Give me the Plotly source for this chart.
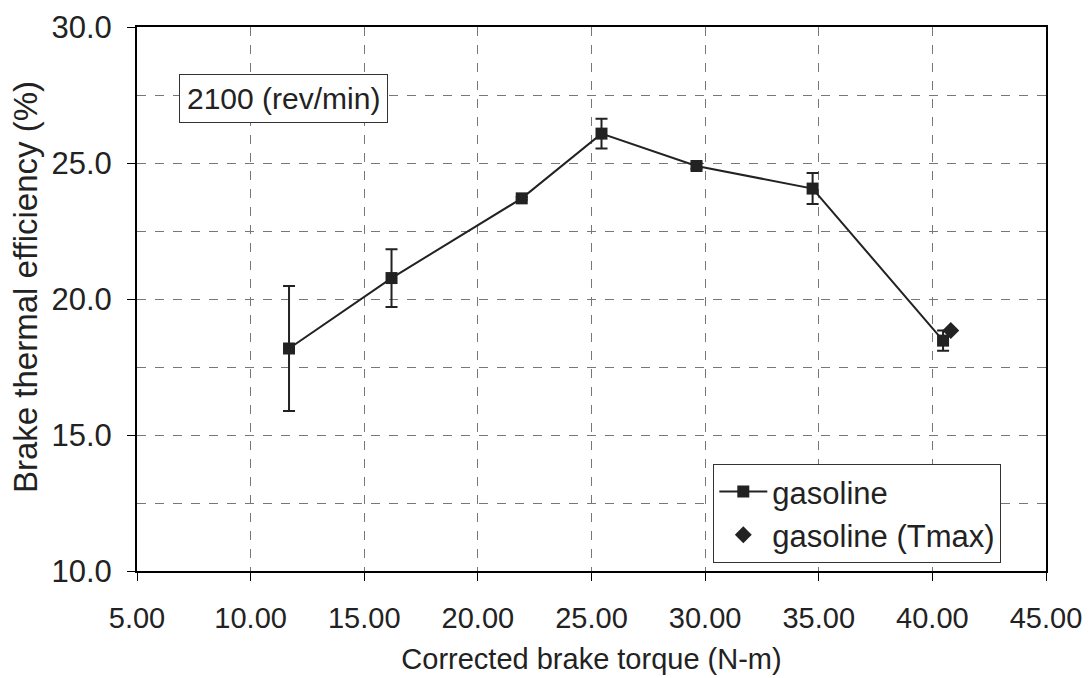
import plotly.graph_objects as go

# Data
torque = [11.69, 16.20, 21.93, 25.44, 29.62, 34.73, 40.47]
efficiency = [18.18, 20.77, 23.70, 26.08, 24.89, 24.06, 18.47]
err = [2.30, 1.06, 0.05, 0.55, 0.10, 0.57, 0.37]

tmax_torque = [40.81]
tmax_eff = [18.84]

x_ticks = [5, 10, 15, 20, 25, 30, 35, 40, 45]
y_ticks = [10, 15, 20, 25, 30]

FONT = "Liberation Sans, Arial, sans-serif"
INK = "#222222"

fig = go.Figure()
fig.add_trace(go.Scatter(
    x=torque, y=efficiency, name="gasoline", mode="lines+markers",
    line=dict(color=INK, width=2),
    marker=dict(symbol="square", size=12, color=INK),
    error_y=dict(type="data", array=err, visible=True, color=INK, thickness=2, width=6),
))
fig.add_trace(go.Scatter(
    x=tmax_torque, y=tmax_eff, name="gasoline (Tmax)", mode="markers",
    marker=dict(symbol="diamond", size=13, color=INK),
))

# page body has an 8px default margin, so the figure is 8px smaller
fig.update_layout(
    width=1082, height=670,
    margin=dict(l=129, r=44, t=19, b=107),
    paper_bgcolor="white", plot_bgcolor="white",
    font=dict(family=FONT, size=28, color=INK),
    showlegend=True,
    legend=dict(
        x=0.634, y=0.197, xanchor="left", yanchor="top",
        bgcolor="white", bordercolor="#333", borderwidth=1,
        font=dict(size=31), tracegroupgap=0, itemwidth=48,
    ),
    annotations=[
        dict(
            text="2100 (rev/min)", x=0.161, y=0.8686, xref="paper", yref="paper",
            xanchor="center", yanchor="middle",
            showarrow=False, font=dict(size=30, color=INK),
            bordercolor="#333", borderwidth=1, borderpad=7, bgcolor="white",
        ),
        dict(
            text="Brake thermal efficiency (%)", x=-0.1232, y=0.522,
            xref="paper", yref="paper", xanchor="center", yanchor="middle",
            textangle=-90, showarrow=False, font=dict(size=33, color=INK),
        ),
    ],
)

grid = dict(showgrid=True, gridcolor="#777777", gridwidth=1, griddash="dash")
fig.update_xaxes(
    range=[5, 45], tickvals=x_ticks, ticktext=[f"{v:.2f}" for v in x_ticks],
    tickfont=dict(size=29), ticklabelstandoff=12,
    showline=True, linecolor="black", linewidth=2, mirror=True,
    ticks="outside", ticklen=8, tickcolor="black",
    title=dict(text="Corrected brake torque (N-m)", font=dict(size=29), standoff=16),
    automargin=False, zeroline=False, **grid,
)
fig.update_yaxes(
    range=[10, 30], tickvals=y_ticks, ticktext=[f"{v:.1f}" for v in y_ticks],
    tickfont=dict(size=31), ticklabelstandoff=9,
    showline=True, linecolor="black", linewidth=2, mirror=True,
    ticks="outside", ticklen=8, tickcolor="black",
    automargin=False, zeroline=False, **grid,
    minor=dict(dtick=2.5, showgrid=True, gridcolor="#777777", griddash="dash", gridwidth=1),
)

fig.write_html("out.html")
